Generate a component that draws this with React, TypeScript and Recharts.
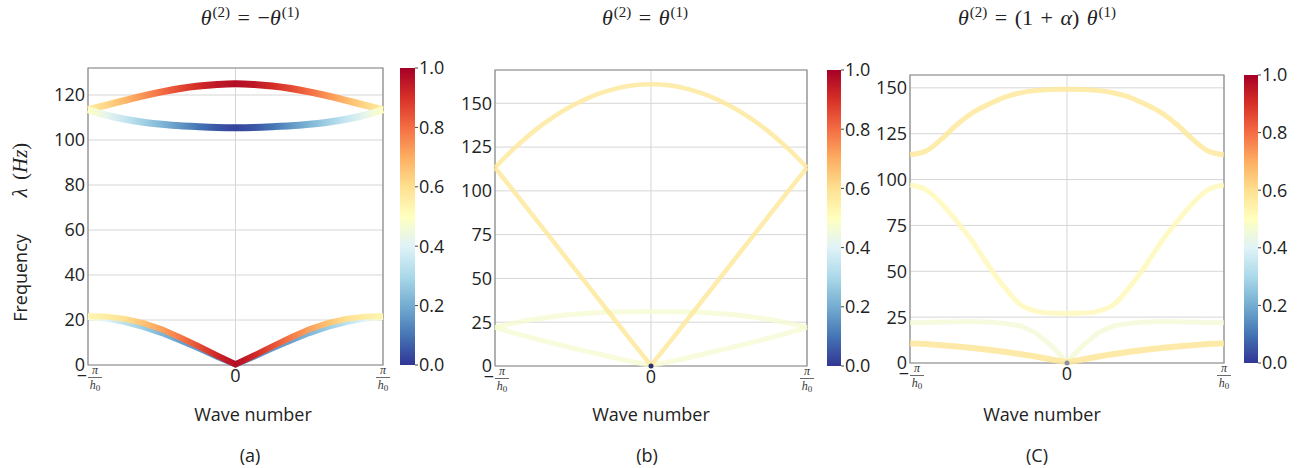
import React from 'react';
import { ComposedChart, Line, XAxis, YAxis, CartesianGrid, ReferenceArea, ReferenceDot, BarChart, Bar } from 'recharts';

// wave number in units of pi/h0
const K_AB = [-1, -0.875, -0.75, -0.625, -0.5, -0.375, -0.25, -0.125, 0, 0.125, 0.25, 0.375, 0.5, 0.625, 0.75, 0.875, 1];
const K_C = [-1, -0.9, -0.8, -0.7, -0.6, -0.5, -0.4, -0.3, -0.2, -0.1, 0, 0.1, 0.2, 0.3, 0.4, 0.5, 0.6, 0.7, 0.8, 0.9, 1];

// (a) theta2 = -theta1
const A_OPT_HI = [113.5, 115.5, 117.6, 119.6, 121.4, 122.9, 124.0, 124.7, 125.0, 124.7, 124.0, 122.9, 121.4, 119.6, 117.6, 115.5, 113.5];
const A_OPT_HI_AMP = [0.56, 0.62, 0.68, 0.74, 0.8, 0.86, 0.91, 0.95, 0.97, 0.95, 0.91, 0.86, 0.8, 0.74, 0.68, 0.62, 0.56];
const A_OPT_LO = [113.5, 111.0, 109.2, 107.9, 107.0, 106.3, 105.9, 105.6, 105.5, 105.6, 105.9, 106.3, 107.0, 107.9, 109.2, 111.0, 113.5];
const A_OPT_LO_AMP = [0.5, 0.42, 0.35, 0.28, 0.22, 0.16, 0.1, 0.05, 0.02, 0.05, 0.1, 0.16, 0.22, 0.28, 0.35, 0.42, 0.5];
const A_AC_HI = [21.8, 21.5, 20.5, 18.6, 15.9, 12.2, 8.3, 4.2, 0.3, 4.2, 8.3, 12.2, 15.9, 18.6, 20.5, 21.5, 21.8];
const A_AC_HI_AMP = [0.53, 0.56, 0.6, 0.66, 0.72, 0.78, 0.85, 0.92, 0.97, 0.92, 0.85, 0.78, 0.72, 0.66, 0.6, 0.56, 0.53];
const A_AC_LO = [21.3, 20.6, 19.1, 16.9, 14.2, 10.9, 7.4, 3.7, 0.2, 3.7, 7.4, 10.9, 14.2, 16.9, 19.1, 20.6, 21.3];
const A_AC_LO_AMP = [0.48, 0.4, 0.33, 0.27, 0.22, 0.18, 0.16, 0.15, 0.15, 0.15, 0.16, 0.18, 0.22, 0.27, 0.33, 0.4, 0.48];

// (b) theta2 = theta1
const B_ARC = [113.3, 124.4, 134.1, 142.2, 148.9, 154.1, 157.8, 160.1, 160.8, 160.1, 157.8, 154.1, 148.9, 142.2, 134.1, 124.4, 113.3];
const B_VEE = [113.3, 99.3, 85.1, 71.0, 56.8, 42.6, 28.4, 14.2, 0.3, 14.2, 28.4, 42.6, 56.8, 71.0, 85.1, 99.3, 113.3];
const B_PALE_HI = [22.0, 24.6, 26.7, 28.3, 29.5, 30.3, 30.8, 31.0, 31.1, 31.0, 30.8, 30.3, 29.5, 28.3, 26.7, 24.6, 22.0];
const B_PALE_LO = [22.0, 18.8, 15.8, 12.9, 10.2, 7.6, 5.0, 2.5, 0.3, 2.5, 5.0, 7.6, 10.2, 12.9, 15.8, 18.8, 22.0];

// (c) theta2 = (1 + alpha) theta1
const C_TOP = [113.5, 115.5, 122, 130, 136.5, 141, 144.8, 147.2, 148.5, 149.1, 149.3, 149.1, 148.5, 147.2, 144.8, 141, 136.5, 130, 122, 115.5, 113.5];
const C_MID = [97, 94.5, 87, 77, 66, 53, 41.5, 32, 28.3, 27.2, 27, 27.2, 28.3, 32, 41.5, 53, 66, 77, 87, 94.5, 97];
const C_LOW = [22, 22.1, 22.3, 22.5, 22.6, 22.4, 21.6, 20.3, 16.5, 9.5, 0.5, 9.5, 16.5, 20.3, 21.6, 22.4, 22.6, 22.5, 22.3, 22.1, 22];
const C_ACO = [10.7, 10.3, 9.7, 9.0, 8.2, 7.2, 6.1, 4.9, 3.5, 1.9, 0.4, 1.9, 3.5, 4.9, 6.1, 7.2, 8.2, 9.0, 9.7, 10.3, 10.7];

const CBAR_TICKS = [0, 0.2, 0.4, 0.6, 0.8, 1.0];
const TICKS_A = [0, 20, 40, 60, 80, 100, 120];
const TICKS_BC = [0, 25, 50, 75, 100, 125, 150];

const RDYLBU_R = ['#313695', '#4575b4', '#74add1', '#abd9e9', '#e0f3f8', '#ffffbf', '#fee090', '#fdae61', '#f46d43', '#d73027', '#a50026'];

const hex = (c: string) => [1, 3, 5].map((i) => parseInt(c.slice(i, i + 2), 16));
function cmap(v: number) {
  const t = Math.max(0, Math.min(1, v)) * 10;
  const i = Math.min(9, Math.floor(t));
  const f = t - i;
  const a = hex(RDYLBU_R[i]);
  const b = hex(RDYLBU_R[i + 1]);
  return `rgb(${a.map((x, j) => Math.round(x + (b[j] - x) * f)).join(',')})`;
}

const SANS = '"Open Sans", "Noto Sans", sans-serif';
const SERIF = '"Liberation Serif", "DejaVu Serif", serif';

type Series = { key: string; values: number[]; amp: number | number[]; width: number; curve: 'monotone' | 'linear'; opacity?: number };

const XTick = (props: any) => {
  const { x, y, payload } = props;
  const v = payload.value;
  if (v === 0) {
    return (
      <text x={x} y={y + 17} textAnchor="middle" fontSize={18} fill="#222" fontFamily={SANS}>0</text>
    );
  }
  const fx = v < 0 ? x + 7 : x;
  return (
    <g>
      {v < 0 && <text x={x - 1} y={y + 17} textAnchor="end" fontSize={18} fill="#222" fontFamily={SANS}>−</text>}
      <text x={fx} y={y + 9} textAnchor="middle" fontSize={12} fontStyle="italic" fill="#333" fontFamily={SERIF}>π</text>
      <line x1={fx - 7} x2={fx + 7} y1={y + 12.5} y2={y + 12.5} stroke="#444" strokeWidth={0.8} />
      <text x={fx} y={y + 24} textAnchor="middle" fontSize={12} fontStyle="italic" fill="#333" fontFamily={SERIF}>
        h<tspan fontSize={9} fontStyle="normal" dy={2}>0</tspan>
      </text>
    </g>
  );
};

type Box = { left: number; top: number; w: number; h: number };

function Panel({ id, k, series, yMax, yTicks, plot, cbar, dot }: { id: string; k: number[]; series: Series[]; yMax: number; yTicks: number[]; plot: Box; cbar: Box; dot?: string }) {
  const rows = k.map((kv, i) => {
    const r: any = { k: kv };
    series.forEach((s) => (r[s.key] = s.values[i]));
    return r;
  });
  const span = k[k.length - 1] - k[0];
  const yW = 50;
  return (
    <>
      <div style={{ position: 'absolute', left: plot.left - yW, top: plot.top - 10 }}>
        <ComposedChart width={yW + plot.w + 10} height={plot.h + 50} data={rows} margin={{ top: 10, right: 10, left: 0, bottom: 0 }}>
          <defs>
            {series.map((s) =>
              Array.isArray(s.amp) ? (
                <linearGradient key={s.key} id={`${id}-${s.key}`} x1="0" y1="0" x2="1" y2="0">
                  {s.amp.map((a, i) => (
                    <stop key={i} offset={(k[i] - k[0]) / span} stopColor={cmap(a)} />
                  ))}
                </linearGradient>
              ) : null
            )}
          </defs>
          <CartesianGrid stroke="#d6d6d6" strokeWidth={1} />
          <XAxis dataKey="k" type="number" domain={[-1, 1]} ticks={[-1, 0, 1]} tickLine={false} axisLine={false} tickSize={0} tickMargin={0} height={40} tick={XTick} interval={0} />
          <YAxis type="number" domain={[0, yMax]} ticks={yTicks} tickLine={false} axisLine={false} tickSize={0} tickMargin={3} width={yW} interval={0}
            tick={{ fontSize: 18, fill: '#222', fontFamily: SANS }} />
          {series.map((s) => (
            <Line key={s.key} dataKey={s.key} type={s.curve} isAnimationActive={false} dot={false} activeDot={false}
              stroke={Array.isArray(s.amp) ? `url(#${id}-${s.key})` : cmap(s.amp)} strokeWidth={s.width} strokeOpacity={s.opacity ?? 1} strokeLinecap="butt" />
          ))}
          {dot && <ReferenceDot x={0} y={0} r={2.5} fill={dot} stroke="none" />}
          <ReferenceArea x1={-1} x2={1} y1={0} y2={yMax} fill="none" stroke="#8a8a8a" strokeWidth={1.2} />
        </ComposedChart>
      </div>
      <div style={{ position: 'absolute', left: cbar.left, top: cbar.top - 16 }}>
        <BarChart width={cbar.w + 50} height={cbar.h + 32} data={[{ n: 'c', v: 1 }]} margin={{ top: 16, right: 0, left: 0, bottom: 16 }} barCategoryGap={0}>
          <defs>
            <linearGradient id={`${id}-cbar`} x1="0" y1="1" x2="0" y2="0">
              {RDYLBU_R.map((c, i) => (
                <stop key={i} offset={i / 10} stopColor={c} />
              ))}
            </linearGradient>
          </defs>
          <XAxis dataKey="n" hide />
          <YAxis orientation="right" type="number" domain={[0, 1]} ticks={CBAR_TICKS} width={50} axisLine={false} tickSize={3} tickMargin={1} interval={0}
            tickLine={{ stroke: '#444' }} tickFormatter={(v: number) => v.toFixed(1)} tick={{ fontSize: 18, fill: '#222', fontFamily: SANS, textAnchor: 'start' }} />
          <Bar dataKey="v" fill={`url(#${id}-cbar)`} isAnimationActive={false} />
        </BarChart>
      </div>
    </>
  );
}

const Title = ({ cx, children }: { cx: number; children: React.ReactNode }) => (
  <div style={{ position: 'absolute', left: cx - 150, width: 300, top: 5, textAlign: 'center', fontFamily: SERIF, fontSize: 22, color: '#222', whiteSpace: 'nowrap', wordSpacing: 2 }}>
    {children}
  </div>
);

const th = <span style={{ fontStyle: 'italic' }}>θ</span>;
const sup = (s: string) => <sup style={{ fontSize: 15, verticalAlign: 8, lineHeight: 0, marginLeft: 1 }}>{s}</sup>;

const Label = ({ cx, cy, text }: { cx: number; cy: number; text: string }) => (
  <div style={{ position: 'absolute', left: cx - 100, width: 200, top: cy - 12, height: 24, lineHeight: '24px', textAlign: 'center', fontFamily: SANS, fontSize: 18, color: '#222' }}>
    {text}
  </div>
);

export default function App() {
  const seriesA: Series[] = [
    { key: 'optHi', values: A_OPT_HI, amp: A_OPT_HI_AMP, width: 7, curve: 'monotone' },
    { key: 'optLo', values: A_OPT_LO, amp: A_OPT_LO_AMP, width: 7, curve: 'monotone' },
    { key: 'acLo', values: A_AC_LO, amp: A_AC_LO_AMP, width: 6, curve: 'linear' },
    { key: 'acHi', values: A_AC_HI, amp: A_AC_HI_AMP, width: 6, curve: 'linear' },
  ];
  const seriesB: Series[] = [
    { key: 'paleHi', values: B_PALE_HI, amp: 0.47, width: 5, curve: 'monotone', opacity: 0.75 },
    { key: 'paleLo', values: B_PALE_LO, amp: 0.47, width: 5, curve: 'linear', opacity: 0.75 },
    { key: 'arc', values: B_ARC, amp: 0.57, width: 4.5, curve: 'monotone', opacity: 0.85 },
    { key: 'vee', values: B_VEE, amp: 0.57, width: 4.5, curve: 'linear', opacity: 0.85 },
  ];
  const seriesC: Series[] = [
    { key: 'low', values: C_LOW, amp: 0.46, width: 5, curve: 'linear', opacity: 0.75 },
    { key: 'mid', values: C_MID, amp: 0.52, width: 5, curve: 'monotone', opacity: 0.8 },
    { key: 'top', values: C_TOP, amp: 0.57, width: 5, curve: 'monotone', opacity: 0.85 },
    { key: 'aco', values: C_ACO, amp: 0.58, width: 6, curve: 'linear', opacity: 0.85 },
  ];
  return (
    <div style={{ position: 'absolute', left: 0, top: 0, width: 1305, height: 468, background: '#fff', overflow: 'hidden' }}>
      <Title cx={250}>{th}{sup('(2)')} = −{th}{sup('(1)')}</Title>
      <Title cx={645}>{th}{sup('(2)')} = {th}{sup('(1)')}</Title>
      <Title cx={1037}>{th}{sup('(2)')} = (1 + <span style={{ fontStyle: 'italic' }}>α</span>) {th}{sup('(1)')}</Title>

      <Panel id="a" k={K_AB} series={seriesA} yMax={132} yTicks={TICKS_A} plot={{ left: 88, top: 68, w: 295, h: 297 }} cbar={{ left: 400, top: 68, w: 15, h: 297 }} />
      <Panel id="b" k={K_AB} series={seriesB} yMax={169} yTicks={TICKS_BC} plot={{ left: 495, top: 70, w: 312, h: 296 }} cbar={{ left: 827, top: 70, w: 14, h: 296 }} dot="#2b3170" />
      <Panel id="c" k={K_C} series={seriesC} yMax={157} yTicks={TICKS_BC} plot={{ left: 910, top: 75, w: 314, h: 288 }} cbar={{ left: 1244, top: 75, w: 14, h: 288 }} dot="#8a8fa8" />

      <div style={{ position: 'absolute', left: 20, top: 278, transform: 'translate(-50%, -50%) rotate(-90deg)', fontFamily: SANS, fontSize: 18, color: '#222', whiteSpace: 'nowrap' }}>Frequency</div>
      <div style={{ position: 'absolute', left: 20, top: 170, transform: 'translate(-50%, -50%) rotate(-90deg)', fontFamily: SERIF, fontSize: 21, color: '#222', whiteSpace: 'nowrap', wordSpacing: 3 }}>
        <span style={{ fontStyle: 'italic' }}>λ</span> (<span style={{ fontStyle: 'italic' }}>Hz</span>)
      </div>

      <Label cx={253} cy={414} text="Wave number" />
      <Label cx={651} cy={414} text="Wave number" />
      <Label cx={1042} cy={414} text="Wave number" />
      <Label cx={250} cy={455} text="(a)" />
      <Label cx={647} cy={455} text="(b)" />
      <Label cx={1037} cy={455} text="(C)" />
    </div>
  );
}
